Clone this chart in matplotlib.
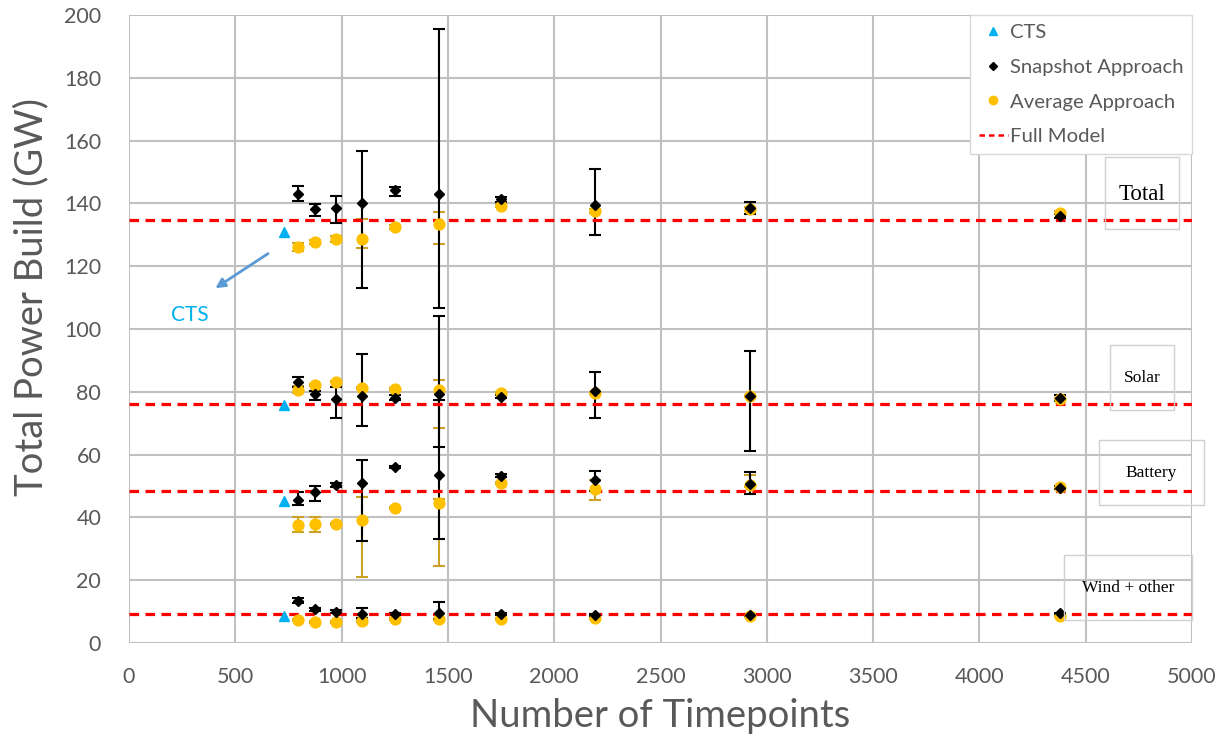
import matplotlib
matplotlib.use("Agg")
import matplotlib.pyplot as plt
from matplotlib.lines import Line2D
from matplotlib.patches import Rectangle
import numpy as np

plt.rcParams['font.family'] = ['Lato', 'DejaVu Sans']

# ---------------- data ----------------
timepoints = [796, 876, 973, 1095, 1251, 1460, 1752, 2190, 2920, 4380]
cts_x = 730
cts_vals = [130.8, 75.7, 45.3, 8.7]            # total, solar, battery, wind
full_model = [134.7, 76.1, 48.5, 9.2]

# Snapshot approach (value, low, high)
snap_total = [143.0, 138.3, 138.5, 140.0, 144.3, 143.0, 141.3, 139.5, 138.4, 136.0]
snap_total_lo = [140.8, 136.1, 133.8, 113.2, 142.2, 106.6, 140.3, 129.9, 136.6, 135.3]
snap_total_hi = [145.5, 139.7, 142.5, 156.8, 145.3, 195.4, 142.0, 151.0, 140.6, 136.7]
snap_solar = [83.2, 79.2, 77.7, 78.8, 78.1, 79.2, 78.5, 80.2, 78.8, 78.0]
snap_solar_lo = [81.5, 77.4, 71.8, 69.1, 77.3, 62.5, 78.0, 71.5, 61.0, 77.0]
snap_solar_hi = [84.8, 80.3, 81.6, 92.0, 79.0, 104.1, 79.0, 86.3, 93.1, 79.0]
snap_batt = [45.5, 48.0, 50.3, 51.1, 56.0, 53.5, 53.3, 51.8, 50.5, 49.5]
snap_batt_lo = [44.0, 45.3, 49.7, 32.6, 55.6, 33.2, 52.8, 48.5, 47.5, 49.0]
snap_batt_hi = [48.0, 50.1, 51.0, 58.3, 56.4, 77.4, 53.8, 54.8, 54.6, 50.0]
snap_wind = [13.4, 10.7, 10.0, 9.2, 9.2, 9.5, 9.3, 8.9, 8.9, 9.4]
snap_wind_lo = [12.7, 10.2, 9.6, 8.0, 8.9, 7.5, 9.0, 8.6, 8.6, 9.1]
snap_wind_hi = [14.2, 11.2, 10.4, 11.0, 9.5, 13.2, 9.6, 9.2, 9.2, 9.7]

# Average approach (value, low, high)
avg_total = [126.2, 127.8, 128.7, 128.6, 132.4, 133.3, 139.3, 137.6, 138.2, 137.0]
avg_total_lo = [125.0, 127.0, 127.8, 125.7, 132.0, 127.0, 139.0, 137.0, 137.5, 136.5]
avg_total_hi = [127.5, 128.5, 129.6, 134.9, 133.0, 137.3, 139.7, 138.2, 139.0, 137.5]
avg_solar = [80.6, 82.2, 83.2, 81.3, 80.8, 80.6, 79.7, 79.6, 78.8, 77.7]
avg_solar_lo = [79.5, 82.0, 83.0, 81.0, 80.5, 68.4, 79.5, 79.2, 78.5, 77.5]
avg_solar_hi = [82.0, 82.4, 83.4, 81.6, 81.1, 83.8, 79.9, 80.0, 79.1, 77.9]
avg_batt = [37.6, 37.8, 37.9, 39.2, 42.9, 44.7, 50.9, 48.9, 50.3, 49.8]
avg_batt_lo = [35.5, 35.4, 37.5, 21.1, 42.6, 24.5, 50.6, 45.7, 49.8, 49.5]
avg_batt_hi = [40.2, 40.2, 38.3, 46.6, 43.2, 46.0, 51.2, 52.0, 53.6, 50.1]
avg_wind = [7.3, 6.8, 6.6, 7.0, 7.7, 7.5, 7.7, 8.0, 8.5, 8.6]
avg_wind_lo = [7.0, 6.5, 6.3, 6.7, 7.4, 7.2, 7.4, 7.7, 8.2, 8.3]
avg_wind_hi = [7.6, 7.1, 6.9, 7.3, 8.0, 7.8, 8.0, 8.3, 8.8, 8.9]

group_labels = ["Total", "Solar", "Battery", "Wind + other"]
legend_labels = ["CTS", "Snapshot Approach", "Average Approach", "Full Model"]
x_ticks = [0, 500, 1000, 1500, 2000, 2500, 3000, 3500, 4000, 4500, 5000]
y_ticks = [0, 20, 40, 60, 80, 100, 120, 140, 160, 180, 200]

# ---------------- style ----------------
C_CTS = "#00B0F0"
C_SNAP = "#000000"
C_AVG = "#FFC000"
C_AVG_ERR = "#C9A227"
C_FULL = "#FF0000"
C_GRID = "#C0C0C0"
C_TXT = "#595959"

W, H = 1230, 736
fig = plt.figure(figsize=(W / 100, H / 100), dpi=100)
L, R, T, B = 129, 1192, 15, 643
ax = fig.add_axes([L / W, 1 - B / H, (R - L) / W, (B - T) / H])

ax.set_xlim(0, 5000)
ax.set_ylim(0, 200)
ax.set_xticks(x_ticks)
ax.set_yticks(y_ticks)
ax.grid(True, color=C_GRID, linewidth=1.5, zorder=0)
ax.set_axisbelow(True)
for s in ax.spines.values():
    s.set_visible(False)
ax.tick_params(length=0, labelsize=15.5, labelcolor=C_TXT)
ax.tick_params(axis='y', pad=20)
ax.tick_params(axis='x', pad=17)
ax.set_xlabel("Number of Timepoints", fontsize=27.5, color=C_TXT, va='center')
ax.set_ylabel("Total Power Build (GW)", fontsize=27.5, color=C_TXT, va='center')
ax.xaxis.set_label_coords(0.5, (B - 716) / (B - T))
ax.yaxis.set_label_coords((31 - L) / (R - L), (B - 297) / (B - T))

snap_sets = [(snap_total, snap_total_lo, snap_total_hi), (snap_solar, snap_solar_lo, snap_solar_hi),
             (snap_batt, snap_batt_lo, snap_batt_hi), (snap_wind, snap_wind_lo, snap_wind_hi)]
avg_sets = [(avg_total, avg_total_lo, avg_total_hi), (avg_solar, avg_solar_lo, avg_solar_hi),
            (avg_batt, avg_batt_lo, avg_batt_hi), (avg_wind, avg_wind_lo, avg_wind_hi)]

for v, lo, hi in avg_sets:
    v = np.array(v); lo = np.array(lo); hi = np.array(hi)
    ax.errorbar(timepoints, v, yerr=[v - lo, hi - v], fmt='none', ecolor=C_AVG_ERR,
                elinewidth=1.5, capsize=4, capthick=1.5, zorder=3)
for v, lo, hi in snap_sets:
    v = np.array(v); lo = np.array(lo); hi = np.array(hi)
    ax.errorbar(timepoints, v, yerr=[v - lo, hi - v], fmt='none', ecolor=C_SNAP,
                elinewidth=1.5, capsize=4, capthick=1.5, zorder=3.2)

for fm in full_model:
    ax.axhline(fm, color=C_FULL, linestyle=(0, (3, 2)), linewidth=2.3, zorder=3.5)

for v, lo, hi in avg_sets:
    ax.plot(timepoints, v, linestyle='none', marker='o', markersize=7.8,
            markerfacecolor=C_AVG, markeredgecolor=C_AVG, zorder=4)
for v, lo, hi in snap_sets:
    ax.plot(timepoints, v, linestyle='none', marker='D', markersize=5.2,
            markerfacecolor=C_SNAP, markeredgecolor=C_SNAP, zorder=5)
ax.plot([cts_x] * len(cts_vals), cts_vals, linestyle='none', marker='^', markersize=6.5,
        markerfacecolor=C_CTS, markeredgecolor=C_CTS, zorder=5)

# CTS annotation
ax.annotate("", xy=(395, 112.5), xytext=(665, 124.5),
            arrowprops=dict(arrowstyle="-|>", color="#5B9BD5", lw=2, mutation_scale=14), zorder=6)
ax.text(287, 104.5, "CTS", color=C_CTS, fontsize=15, ha='center', va='center', zorder=6)

# legend
handles = [
    Line2D([], [], linestyle='none', marker='^', markersize=5.5, color=C_CTS),
    Line2D([], [], linestyle='none', marker='D', markersize=4.2, color=C_SNAP),
    Line2D([], [], linestyle='none', marker='o', markersize=6, color=C_AVG),
    Line2D([], [], color=C_FULL, linestyle=(0, (2.2, 1.6)), linewidth=1.8),
]
leg = ax.legend(handles, legend_labels, loc='upper left',
                bbox_to_anchor=(970 / W, 1 - 15 / H), bbox_transform=fig.transFigure,
                frameon=True, fancybox=False, edgecolor="#D9D9D9", framealpha=1,
                fontsize=14.6, labelspacing=0.86, handlelength=1.4, handletextpad=0.1,
                borderpad=0.45, borderaxespad=0)
for t in leg.get_texts():
    t.set_color(C_TXT)
leg.set_zorder(10)

# group label boxes (pixel coords, top-left origin)
boxes = [
    (1105, 157, 1179, 229, 16.5),
    (1110, 345, 1174, 410, 12.5),
    (1099, 440, 1204, 505, 12.5),
    (1064, 555, 1192, 620, 12.5),
]
for (x0, y0, x1, y1, fs), lab in zip(boxes, group_labels):
    fig.patches.append(Rectangle((x0 / W, 1 - y1 / H), (x1 - x0) / W, (y1 - y0) / H,
                                 transform=fig.transFigure, fill=False,
                                 edgecolor="#D0D0D0", linewidth=1, zorder=8))
    fig.text((x0 + x1) / 2 / W, 1 - ((y0 + y1) / 2 + 1) / H, lab, ha='center', va='center',
             fontsize=fs, family=['Liberation Serif', 'DejaVu Serif'], color='#000000', zorder=9)

fig.savefig("out.png", dpi=100)
